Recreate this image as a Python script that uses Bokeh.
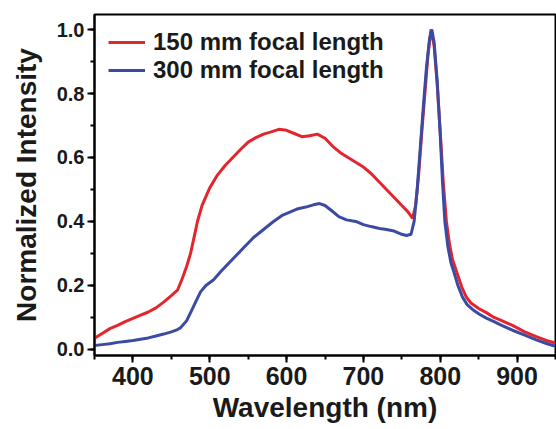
from bokeh.plotting import figure
from bokeh.models import Range1d, SingleIntervalTicker, NumeralTickFormatter, Legend, LegendItem
from bokeh.embed import file_html
from bokeh.resources import INLINE

# 150 mm focal length (red)
wl_150 = [350, 360, 370, 380, 390, 400, 410, 420, 430, 440, 450, 458, 464, 470, 475, 480, 484, 490,
          500, 510, 520, 530, 540, 550, 560, 570, 580, 590, 600, 610, 620, 630, 640, 650, 660, 670,
          680, 690, 700, 710, 720, 730, 740, 750, 758, 764, 768, 772, 776, 780, 784, 788, 792, 796,
          800, 804, 808, 812, 816, 821, 828, 834, 840, 850, 860, 870, 880, 894, 910, 925, 938, 950]
int_150 = [0.035, 0.05, 0.065, 0.075, 0.087, 0.097, 0.107, 0.117, 0.13, 0.148, 0.168, 0.185, 0.22,
           0.26, 0.30, 0.355, 0.40, 0.45, 0.505, 0.545, 0.575, 0.60, 0.625, 0.648, 0.662, 0.673,
           0.68, 0.688, 0.685, 0.675, 0.665, 0.668, 0.673, 0.66, 0.635, 0.615, 0.60, 0.585, 0.57,
           0.55, 0.525, 0.50, 0.475, 0.45, 0.43, 0.41, 0.45, 0.55, 0.68, 0.80, 0.92, 1.0, 0.95,
           0.83, 0.68, 0.52, 0.40, 0.33, 0.28, 0.245, 0.195, 0.163, 0.145, 0.128, 0.115, 0.10,
           0.09, 0.075, 0.055, 0.04, 0.028, 0.02]

# 300 mm focal length (blue)
wl_300 = [350, 360, 370, 380, 390, 400, 410, 420, 430, 440, 450, 458, 462, 470, 476, 482, 488, 495,
          505, 515, 525, 535, 545, 557, 570, 583, 595, 605, 615, 625, 635, 643, 650, 658, 668, 678,
          690, 700, 710, 721, 730, 740, 750, 756, 762, 766, 770, 774, 778, 782, 786, 789, 792, 796,
          800, 803, 806, 810, 814, 818, 823, 829, 835, 842, 851, 860, 870, 880, 894, 910, 925, 940, 950]
int_300 = [0.012, 0.015, 0.018, 0.022, 0.025, 0.028, 0.032, 0.036, 0.042, 0.048, 0.055, 0.062,
           0.068, 0.09, 0.12, 0.15, 0.18, 0.20, 0.218, 0.245, 0.27, 0.295, 0.32, 0.35, 0.375, 0.40,
           0.42, 0.43, 0.44, 0.445, 0.452, 0.456, 0.45, 0.435, 0.415, 0.405, 0.40, 0.39, 0.384,
           0.378, 0.375, 0.37, 0.36, 0.356, 0.36, 0.40, 0.50, 0.63, 0.76, 0.88, 0.97, 1.0, 0.96,
           0.84, 0.67, 0.52, 0.40, 0.32, 0.27, 0.24, 0.20, 0.163, 0.14, 0.125, 0.11, 0.098, 0.087,
           0.075, 0.06, 0.045, 0.03, 0.017, 0.01]

labels = ["150 mm focal length", "300 mm focal length"]
colors = ["#e3262d", "#3b4ba3"]

FONT = "Liberation Sans"

p = figure(width=556, height=429, output_backend="svg", toolbar_location=None,
           x_range=Range1d(350, 950), y_range=Range1d(-0.019, 1.047),
           min_border_left=94, min_border_right=1, min_border_top=14, min_border_bottom=74)

p.background_fill_color = "white"
p.border_fill_color = "white"
p.outline_line_color = "black"
p.outline_line_width = 2
p.grid.visible = False

r1 = p.line(wl_150, int_150, line_color=colors[0], line_width=3)
r2 = p.line(wl_300, int_300, line_color=colors[1], line_width=3)

p.xaxis.ticker = SingleIntervalTicker(interval=100, num_minor_ticks=2)
p.yaxis.ticker = SingleIntervalTicker(interval=0.2, num_minor_ticks=2)
p.yaxis.formatter = NumeralTickFormatter(format="0.0")

for ax in (p.xaxis, p.yaxis):
    ax.axis_line_width = 2
    ax.axis_line_color = "black"
    ax.major_tick_line_width = 2
    ax.minor_tick_line_width = 2
    ax.major_tick_out = 7
    ax.major_tick_in = 0
    ax.minor_tick_out = 4
    ax.minor_tick_in = 0
    ax.major_label_text_font = FONT
    ax.major_label_text_font_style = "bold"
    ax.major_label_text_color = "#1a1a1a"
    ax.axis_label_text_font = FONT
    ax.axis_label_text_font_style = "bold"
    ax.axis_label_text_color = "#1a1a1a"
    ax.axis_label_text_font_size = "28px"

p.xaxis.major_label_text_font_size = "25px"
p.yaxis.major_label_text_font_size = "20px"
p.xaxis.major_label_standoff = 4
p.yaxis.major_label_standoff = 3
p.xaxis.axis_label = "Wavelength (nm)"
p.yaxis.axis_label = "Normalized Intensity"
p.xaxis.axis_label_standoff = 4
p.yaxis.axis_label_standoff = 12

legend = Legend(items=[LegendItem(label=labels[0], renderers=[r1]),
                       LegendItem(label=labels[1], renderers=[r2])],
                location="top_left")
legend.border_line_color = None
legend.background_fill_alpha = 0
legend.margin = 14
legend.padding = 0
legend.label_text_font = FONT
legend.label_text_font_style = "bold"
legend.label_text_font_size = "24px"
legend.label_text_color = "#1a1a1a"
legend.glyph_width = 37
legend.glyph_height = 20
legend.label_height = 20
legend.spacing = 0
legend.label_standoff = 8
p.add_layout(legend)

open("out.html", "w").write(file_html(p, INLINE))
